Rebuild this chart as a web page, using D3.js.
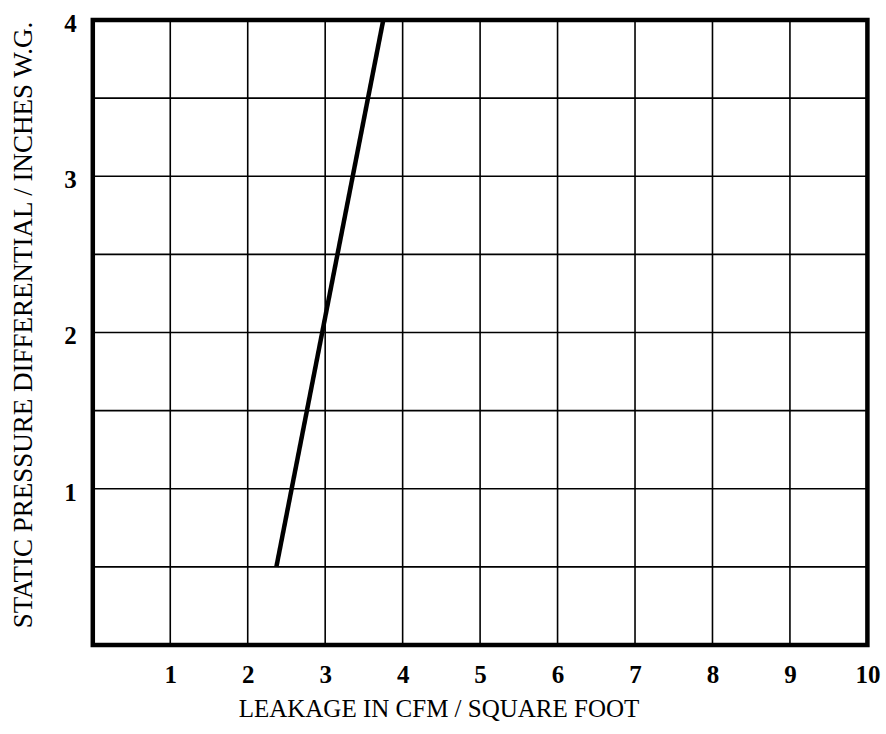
<!DOCTYPE html>
<html>
<head>
<meta charset="utf-8">
<script src="https://cdn.jsdelivr.net/npm/d3@7"></script>
<style>
  body { margin: 0; background: #fff; }
  svg text { font-family: "Liberation Serif", "Times New Roman", serif; fill: #000; }
</style>
</head>
<body>
<div id="chart"></div>
<script>
const width = 886,
height = 734;

// leakage line
let leakageX = [2.37, 3.75]
let pressureY = [0.5, 4]

let xTicks = [1, 2, 3, 4, 5, 6, 7, 8, 9, 10]
let yTicks = [1, 2, 3, 4]
let xGrid = [1, 2, 3, 4, 5, 6, 7, 8, 9]
let yGrid = [0.5, 1, 1.5, 2, 2.5, 3, 3.5]

let xTitle = "LEAKAGE IN CFM / SQUARE FOOT"
let yTitle = "STATIC PRESSURE DIFFERENTIAL / INCHES W.G."

const margin = {top: 20, right: 18.6, bottom: 89, left: 92.8}
const w = width - margin.left - margin.right,
h = height - margin.top - margin.bottom

let x = d3.scaleLinear().domain([0, 10]).range([0, w])
let y = d3.scaleLinear().domain([0, 4]).range([h, 0])

let svg = d3.select("#chart").append("svg")
  .attr("width", width).attr("height", height)

let g = svg.append("g")
  .attr("transform", "translate(" + margin.left + "," + margin.top + ")")

// grid
g.append("g").selectAll("line")
  .data(xGrid)
  .join("line")
  .attr("x1", d => x(d)).attr("x2", d => x(d))
  .attr("y1", 0).attr("y2", h)
  .attr("stroke", "#000").attr("stroke-width", 1.6)

g.append("g").selectAll("line")
  .data(yGrid)
  .join("line")
  .attr("x1", 0).attr("x2", w)
  .attr("y1", d => y(d)).attr("y2", d => y(d))
  .attr("stroke", "#000").attr("stroke-width", 1.6)

// frame
g.append("rect")
  .attr("x", 0).attr("y", 0)
  .attr("width", w).attr("height", h)
  .attr("fill", "none")
  .attr("stroke", "#000").attr("stroke-width", 4.5)

// the leakage line
let pts = leakageX.map((d, i) => [d, pressureY[i]])
g.append("path")
  .datum(pts)
  .attr("fill", "none")
  .attr("stroke", "#000")
  .attr("stroke-width", 4.5)
  .attr("d", d3.line().x(d => x(d[0])).y(d => y(d[1])))

// tick labels via axes, no lines
let xAxis = g.append("g")
  .attr("transform", "translate(0," + h + ")")
  .call(d3.axisBottom(x).tickValues(xTicks).tickFormat(d3.format("d")).tickSize(0).tickPadding(20))
xAxis.select(".domain").remove()
xAxis.selectAll("text")
  .attr("font-size", 25).attr("font-weight", "bold")
  .style("font-family", "'Liberation Serif', serif")

let yAxis = g.append("g")
  .call(d3.axisLeft(y).tickValues(yTicks).tickFormat(d3.format("d")).tickSize(0).tickPadding(16))
yAxis.select(".domain").remove()
yAxis.selectAll("text")
  .attr("font-size", 25).attr("font-weight", "bold")
  .attr("dy", "0.45em")
  .style("font-family", "'Liberation Serif', serif")

// axis titles
svg.append("text")
  .attr("x", 439)
  .attr("y", 717)
  .attr("text-anchor", "middle")
  .attr("font-size", 25)
  .text(xTitle)

svg.append("text")
  .attr("transform", "translate(32," + 325 + ") rotate(-90)")
  .attr("text-anchor", "middle")
  .attr("font-size", 27)
  .text(yTitle)
</script>
</body>
</html>
